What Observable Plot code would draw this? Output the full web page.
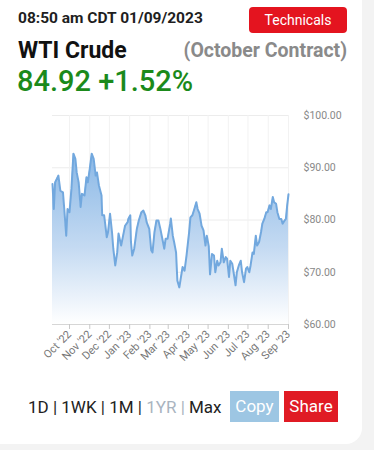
<!DOCTYPE html>
<html>
<head>
<meta charset="utf-8">
<script src="https://cdn.jsdelivr.net/npm/d3@7"></script>
<script src="https://cdn.jsdelivr.net/npm/@observablehq/plot@0.6"></script>
<style>
  html, body { margin: 0; padding: 0; width: 374px; height: 450px; overflow: hidden; background: #f3f3f3; font-family: Roboto, "Noto Sans", sans-serif; }
  #card { position: absolute; left: 0; top: -20px; width: 362px; height: 464px; background: #fff; border-radius: 0 0 16px 0; }
  .abs { position: absolute; white-space: nowrap; }
  #time { left: 18px; top: 11px; font-size: 15.5px; line-height: 15px; font-weight: 700; color: #1e1e1e; }
  #tech { left: 249px; top: 7px; width: 98px; height: 26px; background: #e4141f; border-radius: 4px; color: #fff; font-size: 14px; line-height: 26px; text-align: center; }
  #name { left: 18px; top: 40px; font-size: 23px; line-height: 22px; font-weight: 700; color: #111; }
  #contract { right: 27px; top: 40px; font-size: 19.5px; line-height: 22px; font-weight: 700; color: #8a8a8a; }
  #price { left: 17px; top: 67px; font-size: 29px; line-height: 29px; font-weight: 500; color: #1b8a1b; }
  #chart { left: 0; top: 105px; }
  #ranges { left: 28px; top: 397px; font-size: 17px; line-height: 20px; color: #222; }
  #ranges .dim { color: #a9b4c0; }
  .btn { top: 391px; height: 31px; line-height: 31px; color: #fff; font-size: 17px; text-align: center; }
  #copy { left: 230px; width: 49px; background: #9dc6e3; }
  #share { left: 284px; width: 54px; background: #e01b24; }
</style>
</head>
<body>
<div id="card"></div>
<div class="abs" id="time">08:50 am CDT 01/09/2023</div>
<div class="abs" id="tech">Technicals</div>
<div class="abs" id="name">WTI Crude</div>
<div class="abs" id="contract">(October Contract)</div>
<div class="abs" id="price">84.92 +1.52%</div>
<div class="abs" id="chart"></div>
<div class="abs" id="ranges">1D | 1WK | 1M | <span class="dim">1YR |</span> Max</div>
<div class="abs btn" id="copy">Copy</div>
<div class="abs btn" id="share">Share</div>
<script>
const dates = [
  "2022-09-05","2022-09-07","2022-09-09","2022-09-14","2022-09-17","2022-09-21","2022-09-23","2022-09-26","2022-09-28",
  "2022-10-01","2022-10-04","2022-10-07","2022-10-10","2022-10-12","2022-10-15","2022-10-18","2022-10-20","2022-10-24","2022-10-27","2022-10-29",
  "2022-11-01","2022-11-04","2022-11-07","2022-11-10","2022-11-12","2022-11-15","2022-11-19","2022-11-20","2022-11-23","2022-11-27","2022-11-29",
  "2022-12-02","2022-12-05","2022-12-07","2022-12-10","2022-12-13","2022-12-15","2022-12-19","2022-12-22","2022-12-25","2022-12-29","2022-12-30",
  "2023-01-02","2023-01-03","2023-01-05","2023-01-08","2023-01-12","2023-01-15","2023-01-19","2023-01-22","2023-01-25","2023-01-27","2023-01-31",
  "2023-02-03","2023-02-05","2023-02-08","2023-02-11","2023-02-14","2023-02-17","2023-02-20","2023-02-23","2023-02-25","2023-02-28",
  "2023-03-04","2023-03-05","2023-03-08","2023-03-10","2023-03-13","2023-03-15","2023-03-18","2023-03-20","2023-03-23","2023-03-26","2023-03-29",
  "2023-04-02","2023-04-04","2023-04-07","2023-04-10","2023-04-13","2023-04-15","2023-04-18","2023-04-21","2023-04-24","2023-04-27","2023-04-29",
  "2023-05-02","2023-05-04","2023-05-07","2023-05-10","2023-05-12","2023-05-15","2023-05-17","2023-05-20","2023-05-22","2023-05-25","2023-05-28","2023-05-30",
  "2023-06-02","2023-06-04","2023-06-07","2023-06-09","2023-06-12","2023-06-14","2023-06-17","2023-06-20","2023-06-22","2023-06-25","2023-06-28","2023-06-30",
  "2023-07-03","2023-07-05","2023-07-08","2023-07-10","2023-07-13","2023-07-15","2023-07-18","2023-07-21","2023-07-23","2023-07-26","2023-07-29","2023-07-31",
  "2023-08-03","2023-08-05","2023-08-08","2023-08-10","2023-08-13","2023-08-15","2023-08-18","2023-08-21","2023-08-23","2023-08-26","2023-08-28","2023-08-30",
  "2023-09-01"
];
const prices = [
  86.9,82.1,87.2,88.5,85.6,85.3,82.1,77.0,82.1,
  81.5,86.0,92.7,91.7,89.1,87.2,82.5,85.0,84.7,88.2,87.2,
  89.8,92.7,91.7,88.5,89.1,86.6,84.7,80.9,80.9,76.7,77.7,
  81.2,77.7,74.5,71.3,73.8,77.4,75.1,77.0,78.9,79.6,80.2,
  80.9,75.8,73.2,74.5,78.3,79.9,81.5,81.8,80.9,79.6,78.3,
  74.2,73.8,77.7,79.9,79.9,78.3,76.4,74.5,76.4,76.4,
  79.3,80.3,77.0,75.8,73.8,68.4,67.1,68.7,71.0,70.3,73.2,
  77.7,80.5,80.9,82.1,83.4,82.1,81.2,78.9,78.0,75.1,77.0,
  75.0,69.6,73.5,73.2,70.0,72.2,71.3,71.9,74.5,71.9,72.9,72.6,
  69.1,72.2,71.6,70.0,67.5,70.0,71.3,72.2,70.0,68.1,70.7,71.0,
  70.0,71.3,73.8,73.5,77.0,75.1,75.8,77.7,79.3,80.2,81.5,81.5,
  82.8,82.1,84.4,83.4,83.1,81.5,80.2,80.2,79.3,79.9,80.2,82.8,
  84.92
];
const yTicks = [60, 70, 80, 90, 100];

const data = dates.map((d, i) => ({date: new Date(d), price: prices[i]}));
const monthTicks = d3.utcMonth.range(new Date("2022-10-01"), new Date("2023-09-02"));

const defs = () => {
  const ns = "http://www.w3.org/2000/svg";
  const g = document.createElementNS(ns, "defs");
  g.innerHTML = `<linearGradient id="wtiGrad" x1="0" y1="0" x2="0" y2="1">
    <stop offset="0%" stop-color="#8ab8e6"/>
    <stop offset="55%" stop-color="#c4daf2"/>
    <stop offset="100%" stop-color="#ffffff"/>
  </linearGradient>`;
  return g;
};

const chart = Plot.plot({
  width: 374,
  height: 260,
  marginLeft: 52,
  marginRight: 86,
  marginTop: 10,
  marginBottom: 41,
  style: {fontFamily: "Roboto, sans-serif", fontSize: "10px", color: "#888", background: "transparent"},
  x: {type: "utc", domain: d3.extent(data, d => d.date)},
  y: {domain: [60, 100]},
  marks: [
    defs,
    Plot.gridY(yTicks, {stroke: "#ececec", strokeOpacity: 1}),
    Plot.gridX(monthTicks, {stroke: "#f2f2f2", strokeOpacity: 1}),
    Plot.areaY(data, {x: "date", y1: 60, y2: "price", fill: "url(#wtiGrad)"}),
    Plot.lineY(data, {x: "date", y: "price", stroke: "#72a8de", strokeWidth: 2}),
    Plot.ruleY([60], {stroke: "#d6d6d6"}),
    Plot.axisY(yTicks, {anchor: "right", tickSize: 0, tickPadding: 15, tickFormat: d => "$" + d.toFixed(2), fill: "#888", fontSize: 10.5, label: null}),
    Plot.axisX(monthTicks, {
      tickSize: 5, stroke: "#c8c8c8", tickRotate: -45, tickPadding: 3,
      tickFormat: d3.utcFormat("%b '%y"), fill: "#777", fontSize: 11, label: null
    })
  ]
});
document.getElementById("chart").appendChild(chart);
</script>
</body>
</html>
